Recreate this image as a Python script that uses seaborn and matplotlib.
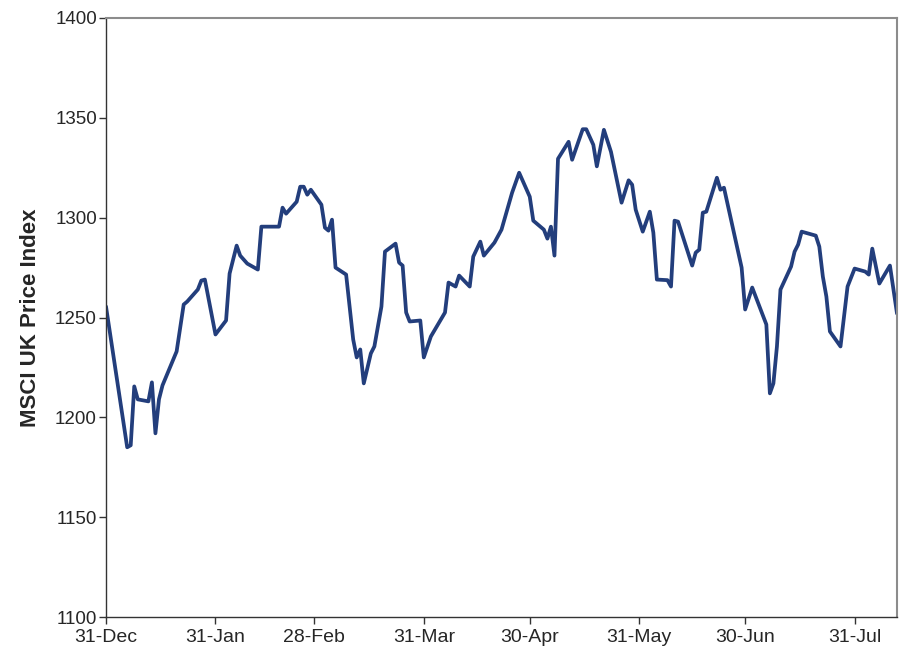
import pandas as pd
import matplotlib.pyplot as plt
import matplotlib.dates as mdates
import seaborn as sns

sns.set_theme(style="ticks")
plt.rcParams["font.family"] = ["Liberation Sans", "DejaVu Sans"]

# turning points of the index
dates = [
    "2013-12-31", "2014-01-06", "2014-01-07", "2014-01-08", "2014-01-09",
    "2014-01-12", "2014-01-13", "2014-01-14", "2014-01-15", "2014-01-16",
    "2014-01-20", "2014-01-22", "2014-01-23", "2014-01-26", "2014-01-27",
    "2014-01-28", "2014-01-31", "2014-02-03", "2014-02-04", "2014-02-06",
    "2014-02-07", "2014-02-09", "2014-02-12", "2014-02-13", "2014-02-18",
    "2014-02-19", "2014-02-20", "2014-02-23", "2014-02-24", "2014-02-25",
    "2014-02-26", "2014-02-27", "2014-03-02", "2014-03-03", "2014-03-04",
    "2014-03-05", "2014-03-06", "2014-03-09", "2014-03-11", "2014-03-12",
    "2014-03-13", "2014-03-14", "2014-03-16", "2014-03-17", "2014-03-19",
    "2014-03-20", "2014-03-23", "2014-03-24", "2014-03-25", "2014-03-26",
    "2014-03-27", "2014-03-30", "2014-03-31", "2014-04-02", "2014-04-06",
    "2014-04-07", "2014-04-09", "2014-04-10", "2014-04-13", "2014-04-14",
    "2014-04-16", "2014-04-17", "2014-04-20", "2014-04-22", "2014-04-25",
    "2014-04-27", "2014-04-30", "2014-05-01", "2014-05-04", "2014-05-05",
    "2014-05-06", "2014-05-07", "2014-05-08", "2014-05-11", "2014-05-12",
    "2014-05-15", "2014-05-16", "2014-05-18", "2014-05-19", "2014-05-21",
    "2014-05-23", "2014-05-26", "2014-05-28", "2014-05-29", "2014-05-30",
    "2014-06-01", "2014-06-03", "2014-06-04", "2014-06-05", "2014-06-08",
    "2014-06-09", "2014-06-10", "2014-06-11", "2014-06-15", "2014-06-16",
    "2014-06-17", "2014-06-18", "2014-06-19", "2014-06-22", "2014-06-23",
    "2014-06-24", "2014-06-29", "2014-06-30", "2014-07-02", "2014-07-06",
    "2014-07-07", "2014-07-08", "2014-07-09", "2014-07-10", "2014-07-13",
    "2014-07-14", "2014-07-15", "2014-07-16", "2014-07-20", "2014-07-21",
    "2014-07-22", "2014-07-23", "2014-07-24", "2014-07-27", "2014-07-29",
    "2014-07-31", "2014-08-03", "2014-08-04", "2014-08-05", "2014-08-07",
    "2014-08-10", "2014-08-12",
]
price = [
    1255.5, 1185, 1186, 1215.5, 1209,
    1208, 1217.5, 1192, 1209, 1216,
    1233, 1256.5, 1258, 1264, 1268.5,
    1269, 1241.5, 1248.5, 1272, 1286,
    1281, 1277, 1274, 1295.5, 1295.5,
    1305, 1302, 1308, 1315.5, 1315.5,
    1311.5, 1314, 1306.5, 1295, 1293.5,
    1299, 1275, 1271.5, 1239, 1230,
    1234, 1217, 1232, 1235.5, 1255.5,
    1283, 1287, 1277.5, 1276, 1252.5,
    1248, 1248.5, 1230, 1240.5, 1252.5,
    1267.5, 1265.5, 1271, 1265.5, 1280.5,
    1288, 1281, 1287.5, 1294, 1312.5,
    1322.5, 1310.5, 1298.5, 1294, 1289.5,
    1295.5, 1281, 1329.5, 1338, 1329,
    1344.3, 1344.3, 1336.5, 1325.7, 1344,
    1333, 1307.5, 1318.7, 1316.5, 1304,
    1293, 1303, 1292.5, 1269, 1268.7,
    1265.5, 1298.5, 1298, 1276, 1282.5,
    1284, 1302.5, 1303, 1320, 1314,
    1315, 1275, 1254, 1265, 1246.5,
    1212, 1217, 1235.5, 1264, 1275.5,
    1283, 1286.5, 1293, 1291, 1285.5,
    1270.5, 1260.5, 1243, 1235.5, 1265.5,
    1274.5, 1273, 1271.5, 1284.5, 1267,
    1276, 1252,
]

df = pd.DataFrame({"date": pd.to_datetime(dates), "price": price})

fig = plt.figure(figsize=(9.11, 6.60), dpi=100)
ax = fig.add_axes([106 / 911, 1 - 617 / 660, (897 - 106) / 911, (617 - 18) / 660])

sns.lineplot(data=df, x="date", y="price", color="#233E7C", linewidth=2.7, ax=ax)

ax.set_xlim(pd.Timestamp("2013-12-31"), pd.Timestamp("2014-08-12"))
ax.set_ylim(1100, 1400)
ax.set_yticks(range(1100, 1401, 50))
ax.xaxis.set_major_locator(mdates.MonthLocator(bymonthday=-1))
ax.xaxis.set_major_formatter(mdates.DateFormatter("%d-%b"))

ax.set_xlabel("")
ax.set_ylabel("MSCI UK Price Index", fontsize=16, fontweight="bold", labelpad=10)
ax.tick_params(axis="both", length=5, width=1, color="#333333", direction="out")
ax.tick_params(axis="y", labelsize=13.5, pad=1.5)
ax.tick_params(axis="x", labelsize=14, pad=4)

for side in ["left", "bottom"]:
    ax.spines[side].set_color("#333333")
    ax.spines[side].set_linewidth(1)
for side in ["top", "right"]:
    ax.spines[side].set_visible(True)
    ax.spines[side].set_color("#8c8c8c")
    ax.spines[side].set_linewidth(1.5)

fig.savefig("out.png", dpi=100)
